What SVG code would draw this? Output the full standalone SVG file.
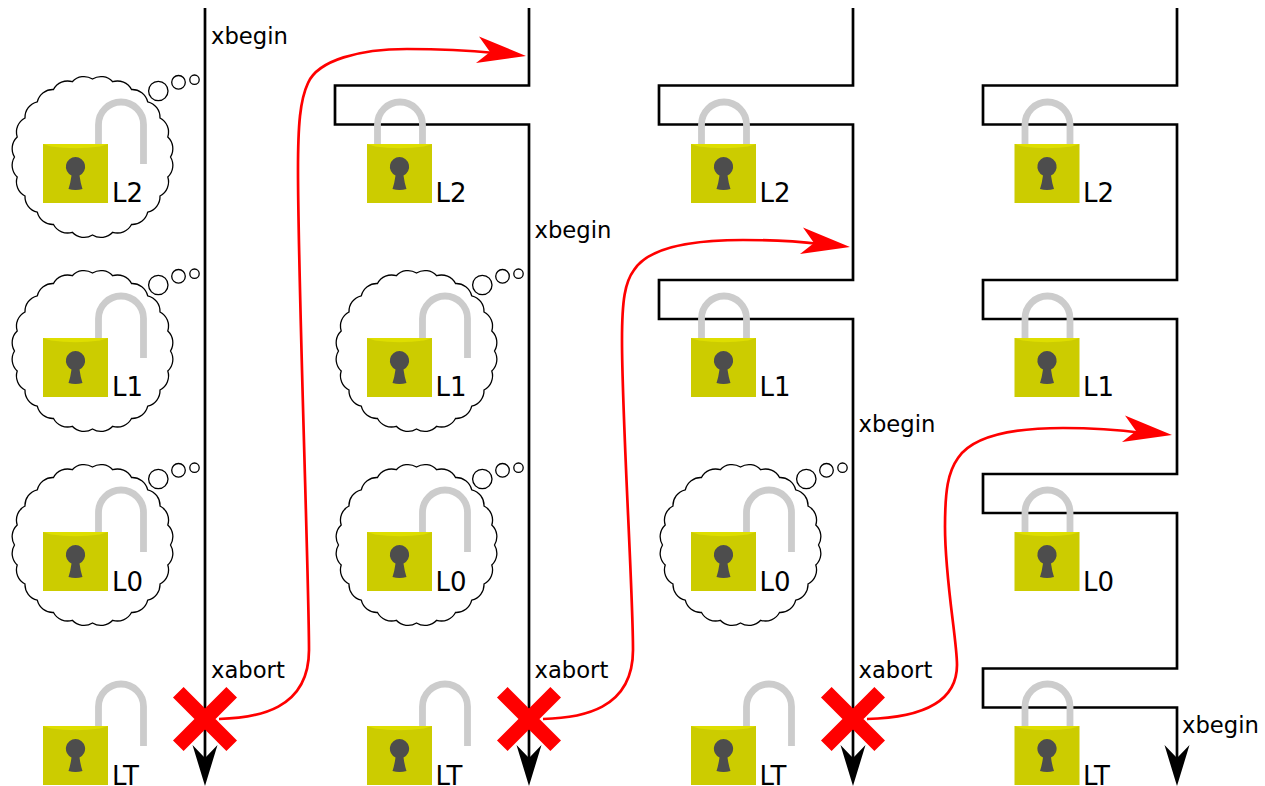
<svg xmlns="http://www.w3.org/2000/svg" width="1265" height="786" viewBox="0 0 1265 786">
<style>
text{font-family:"DejaVu Sans",sans-serif;fill:#000}
.t{font-size:22.7px}
.l{font-size:26px}
.wire{fill:none;stroke:#000;stroke-width:2.700}
.red{fill:none;stroke:#f00;stroke-width:2.700}
.x{fill:none;stroke:#f00;stroke-width:15}
.cloud{fill:#fff;stroke:#000;stroke-width:1.300}
.sh{fill:none;stroke:#ccc;stroke-width:6.800}
</style>
<defs>
<g id="body">
<rect x="43" y="144" width="65" height="59" fill="#cc0"/>
<path d="M43 144H108L100 146.500Q75.500 150 51 146.500Z" fill="#dede00"/>
<path d="M75.500 157a9.700 9.700 0 0 1 4 18.500Q80.500 183 82.500 189Q75.500 191 68.500 189Q70.500 183 71.500 175.500A9.700 9.700 0 0 1 75.500 157Z" fill="#4d4d4d"/>
</g>
<g id="open"><path class="sh" d="M98.500 146V124.500A22.500 22.500 0 0 1 143.500 124.500V164"/><use href="#body"/></g>
<g id="closed"><path class="sh" d="M53.500 146V124.500A22.500 22.500 0 0 1 98.500 124.500V146"/><use href="#body"/></g>
<g id="cloud">
<path class="cloud" d="M170.500 157A16 16 0 0 0 167.800 137A16 16 0 0 0 160 118A16 16 0 0 0 147.700 101.800A16 16 0 0 0 131.500 89.500A16 16 0 0 0 112.700 81.700A16 16 0 0 0 92.500 79A16 16 0 0 0 72.300 81.700A16 16 0 0 0 53.500 89.500A16 16 0 0 0 37.300 101.800A16 16 0 0 0 25 118A16 16 0 0 0 17.200 137A16 16 0 0 0 14.500 157A16 16 0 0 0 17.200 177A16 16 0 0 0 25 196A16 16 0 0 0 37.300 212.200A16 16 0 0 0 53.500 224.500A16 16 0 0 0 72.300 232.300A16 16 0 0 0 92.500 235A16 16 0 0 0 112.700 232.300A16 16 0 0 0 131.500 224.500A16 16 0 0 0 147.700 212.200A16 16 0 0 0 160 196A16 16 0 0 0 167.800 177A16 16 0 0 0 170.500 157Z"/>
<circle class="cloud" cx="158.300" cy="91" r="9.700"/>
<circle class="cloud" cx="178.500" cy="82.300" r="6.800"/>
<circle class="cloud" cx="194.500" cy="79.700" r="4.700"/>
</g>
<path id="ah" d="M192.500 745L205 786L217.500 745L205 758Z" fill="#000"/>
<path id="rh" d="M479 36.500L526 56L476 63L490 52Z" fill="#f00"/>
</defs>
<g id="connectors">
<path class="wire" d="M205 8V770"/>
<path class="wire" d="M529 8V85.500H335V124.500H529V770"/>
<path class="wire" d="M853 8V85.500H659V124.500H853V280H659V319H853V770"/>
<path class="wire" d="M1177 8V85.500H983V124.500H1177V280H983V319H1177V474H983V513H1177V668.500H983V707.500H1177V770"/>
<use href="#ah"/><use href="#ah" x="324"/><use href="#ah" x="648"/><use href="#ah" x="972"/>
<path class="x" d="M178.300 692.300L231.700 745.700M231.700 692.300L178.300 745.700"/>
<path class="x" d="M502.300 692.300L555.700 745.700M555.700 692.300L502.300 745.700"/>
<path class="x" d="M826.300 692.300L879.700 745.700M879.700 692.300L826.300 745.700"/>
<path class="red" d="M219 719C257 718 309 710 309 650C309 580 298 280 298 170C298 125 300 100 308 83C318 60 360 49 407 49C435 49 465 50 495 53"/>
<path class="red" d="M543 719C581 718 633 710 633 650C633 590 622 420 622 340C622 300 625 282 634 270C648 248 690 240 743 240C770 240 795 241 820 244"/>
<path class="red" d="M867 719C905 718 957 710 957 665C957 640 945 580 945 527C945 490 948 472 958 458C972 437 1010 428 1063 428C1090 428 1120 430 1143 433"/>
<use href="#rh"/><use href="#rh" x="324" y="191"/><use href="#rh" x="646" y="379"/>
</g>
<g id="c1-l2"><use href="#cloud"/><use href="#open"/><text class="l" x="112" y="202">L2</text></g>
<g id="c1-l1"><use href="#cloud" y="194"/><use href="#open" y="194"/><text class="l" x="112" y="396">L1</text></g>
<g id="c1-l0"><use href="#cloud" y="388"/><use href="#open" y="388"/><text class="l" x="112" y="590.500">L0</text></g>
<g id="c1-lt"><use href="#open" y="582"/><text class="l" x="112" y="785">LT</text></g>
<g id="c2-l2"><use href="#closed" x="324"/><text class="l" x="435.500" y="202">L2</text></g>
<g id="c2-l1"><use href="#cloud" x="324" y="194"/><use href="#open" x="324" y="194"/><text class="l" x="435.500" y="396">L1</text></g>
<g id="c2-l0"><use href="#cloud" x="324" y="388"/><use href="#open" x="324" y="388"/><text class="l" x="435.500" y="590.500">L0</text></g>
<g id="c2-lt"><use href="#open" x="324" y="582"/><text class="l" x="435.500" y="785">LT</text></g>
<g id="c3-l2"><use href="#closed" x="648"/><text class="l" x="759.500" y="202">L2</text></g>
<g id="c3-l1"><use href="#closed" x="648" y="194"/><text class="l" x="759.500" y="396">L1</text></g>
<g id="c3-l0"><use href="#cloud" x="648" y="388"/><use href="#open" x="648" y="388"/><text class="l" x="759.500" y="590.500">L0</text></g>
<g id="c3-lt"><use href="#open" x="648" y="582"/><text class="l" x="759.500" y="785">LT</text></g>
<g id="c4-l2"><use href="#closed" x="971.500"/><text class="l" x="1083" y="202">L2</text></g>
<g id="c4-l1"><use href="#closed" x="971.500" y="194"/><text class="l" x="1083" y="396">L1</text></g>
<g id="c4-l0"><use href="#closed" x="971.500" y="388"/><text class="l" x="1083" y="590.500">L0</text></g>
<g id="c4-lt"><use href="#closed" x="971.500" y="582"/><text class="l" x="1083" y="785">LT</text></g>
<g id="labels">
<text class="t" x="211" y="44">xbegin</text>
<text class="t" x="534.500" y="238">xbegin</text>
<text class="t" x="858.500" y="432">xbegin</text>
<text class="t" x="1182" y="733">xbegin</text>
<text class="t" x="211" y="678">xabort</text>
<text class="t" x="534.500" y="678">xabort</text>
<text class="t" x="858.500" y="678">xabort</text>
</g>
</svg>
